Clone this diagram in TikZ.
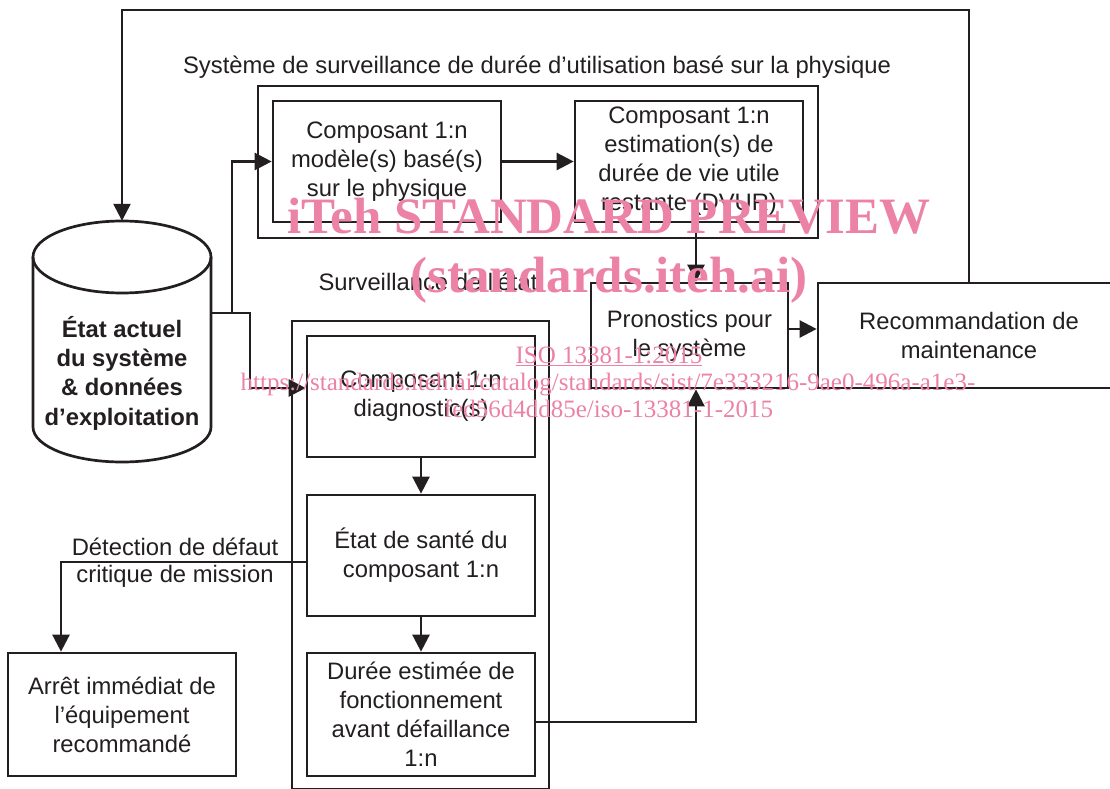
\documentclass[tikz,border=0pt]{standalone}
\usepackage{fontspec}
\setmainfont{Liberation Sans}
\newfontfamily\wmfont{Liberation Serif}
\usetikzlibrary{arrows.meta}
\definecolor{ink}{RGB}{35,31,32}
\definecolor{wm}{RGB}{236,130,165}
\begin{document}
\begin{tikzpicture}[x=1pt,y=-1pt,
  box/.style={draw=ink, line width=2.7pt, inner sep=0pt, align=center, text=ink,
    font=\fontsize{23.8}{29}\selectfont},
  lbl/.style={inner sep=0pt, align=center, text=ink, font=\fontsize{23.8}{29}\selectfont},
  con/.style={draw=ink, line width=2.5pt},
  arr/.style={draw=ink, line width=2.5pt, -{Triangle[length=17pt,width=17pt]}},
  wmk/.style={inner sep=0pt, text=wm, anchor=base}]
\useasboundingbox (0,0) rectangle (1110,789);
\fill[white] (0,0) rectangle (1110,789);

% group frames
\node[box, minimum width=560pt, minimum height=152pt] (phys) at (538,162) {};
\node[box, minimum width=257pt, minimum height=468pt] (cond) at (420.5,555) {};
\node[lbl] (title) at (537,67) {Système de surveillance de durée d’utilisation basé sur la physique};
\node[lbl] (condlbl) at (428,282) {Surveillance de l\textquotesingle état};

% boxes
\node[box, minimum width=228pt, minimum height=121pt] (box1) at (387,161.5) {Composant 1:n\\modèle(s) basé(s)\\sur le physique};
\node[box, minimum width=228pt, minimum height=121pt] (box2) at (689,161.5) {Composant 1:n\\estimation(s) de\\durée de vie utile\\restante (DVUR)};
\node[box, minimum width=197pt, minimum height=105pt] (pron) at (689.5,335.5) {Pronostics pour\\le système};
\node[box, minimum width=302pt, minimum height=105pt] (rec) at (969,335.5) {Recommandation de\\maintenance};
\node[box, minimum width=228pt, minimum height=121pt] (diag) at (421,396.5) {Composant 1:n\\diagnostic(s)};
\node[box, minimum width=228pt, minimum height=121pt] (sante) at (421,555.5) {État de santé du\\composant 1:n};
\node[box, minimum width=228pt, minimum height=123pt] (duree) at (421,714.5) {Durée estimée de\\fonctionnement\\avant défaillance\\1:n};
\node[box, minimum width=228pt, minimum height=123pt] (arret) at (122,714.5) {Arrêt immédiat de\\l’équipement\\recommandé};

% database cylinder
\node[inner sep=0pt, minimum width=178pt, minimum height=241pt] (db) at (122,341.5) {};
\draw[con, line width=2.7pt] (33,257) -- (33,427) arc[start angle=180, end angle=0, x radius=89, y radius=35] -- (211,257);
\draw[con, line width=2.7pt] (122,257) ellipse [x radius=89, y radius=36];
\node[lbl, font=\fontsize{23.8}{29.3}\selectfont\bfseries] (dbtext) at (122,373) {État actuel\\du système\\\& données\\d’exploitation};

% helper coordinates
\coordinate (topy) at (0,10);
\coordinate (fy) at (0,313);
\coordinate (jx1) at (232,0);
\coordinate (jx2) at (250,0);
\coordinate (dy) at (0,388);
\coordinate (px) at (696,0);
\coordinate (py) at (0,329);
\coordinate (dety) at (0,562);
\coordinate (ax) at (61,0);
\coordinate (dury) at (0,722);

% connectors
\draw[arr] (rec.north) -- (rec.north |- topy) -| (db.north);
\draw[arr] (db.east |- fy) -| (jx1 |- box1.west) -- (box1.west);
\draw[arr] (jx1 |- fy) -| (jx2 |- dy) -- (diag.west |- dy);
\draw[arr] (box1.east) -- (box2.west);
\draw[arr] (box2.south -| px) -- (pron.north -| px);
\draw[arr] (pron.east |- py) -- (rec.west |- py);
\draw[arr] (diag.south) -- (sante.north);
\draw[arr] (sante.south) -- (duree.north);
\draw[arr] (sante.west |- dety) -| (ax |- arret.north);
\draw[arr] (duree.east |- dury) -| (px |- pron.south);
\node[lbl] (det1) at (175,547) {Détection de défaut};
\node[lbl] (det2) at (175,576) {critique de mission};

% watermark
\node[wmk, font=\wmfont\fontsize{51}{51}\selectfont\bfseries] (wm1) at (609,233) {iTeh STANDARD PREVIEW};
\node[wmk, font=\wmfont\fontsize{51}{51}\selectfont\bfseries] (wm2) at (609,292) {(standards.iteh.ai)};
\node[wmk, font=\wmfont\fontsize{25}{25}\selectfont] (wm3) at (609,363) {\underline{ISO 13381-1:2015}};
\node[wmk, font=\wmfont\fontsize{25}{25}\selectfont] (wm4) at (608,390) {https://standards.iteh.ai/catalog/standards/sist/7e333216-9ae0-496a-a1e3-};
\node[wmk, font=\wmfont\fontsize{25}{25}\selectfont] (wm5) at (608.5,417) {fed56d4dd85e/iso-13381-1-2015};
\end{tikzpicture}
\end{document}
